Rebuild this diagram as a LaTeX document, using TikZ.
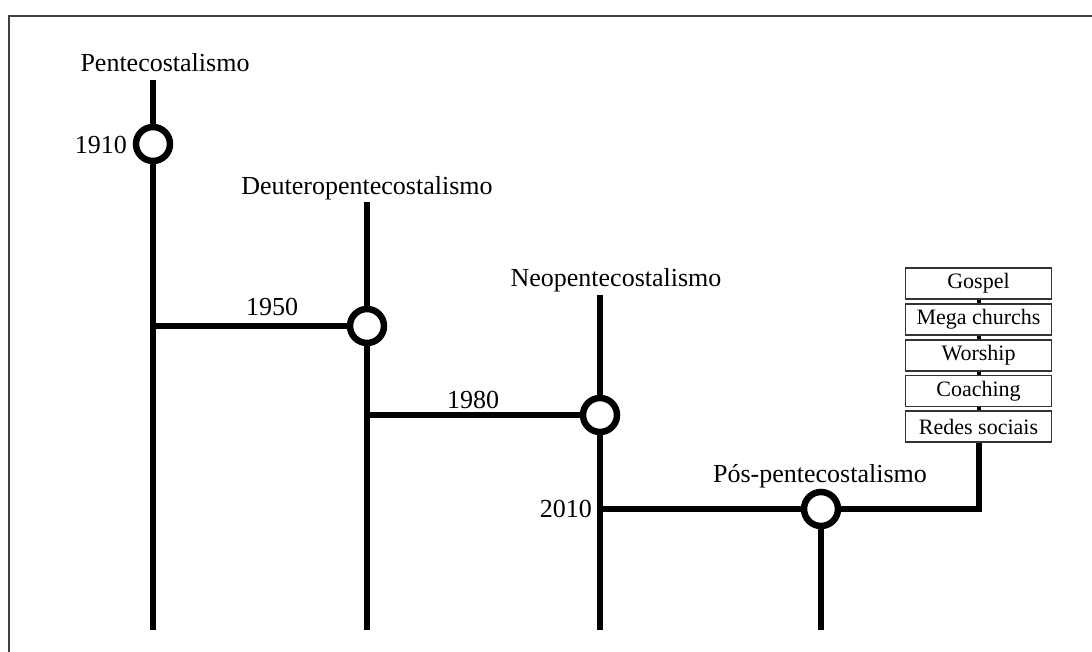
\documentclass[tikz,border=0pt]{standalone}
\usepackage{fontspec}
\setmainfont{Liberation Serif}
\begin{document}
\begin{tikzpicture}[x=1pt,y=-1pt,
  track/.style={line width=6pt,black},
  era/.style={circle,draw=black,line width=6.5pt,fill=white,minimum size=34pt,inner sep=0pt},
  title/.style={font=\fontsize{26}{30}\selectfont,anchor=base,inner sep=0pt},
  year/.style={font=\fontsize{26}{30}\selectfont,inner sep=0pt},
  tag/.style={draw=black!80,line width=1.6pt,fill=white,minimum width=146pt,minimum height=31pt,
    inner sep=0pt,font=\fontsize{22}{24}\selectfont},
  link/.style={line width=4pt,black}]
  \useasboundingbox (0,0) rectangle (1092,652);
  % frame edges
  \draw[line width=2pt,black!75] (9,652) -- (9,16) -- (1092,16);

  % era markers
  \node[era] (c1) at (153,144) {};
  \node[era] (c2) at (367,326) {};
  \node[era] (c3) at (600,415) {};
  \node[era] (c4) at (821,509) {};

  % line ends and junctions
  \coordinate (t1) at (153,80);
  \coordinate (t2) at (367,202);
  \coordinate (t3) at (600,295);
  \coordinate (b1) at (153,630);
  \coordinate (b2) at (367,630);
  \coordinate (b3) at (600,630);
  \coordinate (b4) at (821,630);
  \coordinate (j1) at (153,326);
  \coordinate (j2) at (367,415);
  \coordinate (j3) at (600,509);
  \coordinate (k4) at (978.5,509);

  % titles
  \node[title] (n1) at (165,72) {Pentecostalismo};
  \node[title] (n2) at (367,195) {Deuteropentecostalismo};
  \node[title] (n3) at (616,287) {Neopentecostalismo};
  \node[title] (n4) at (820,482) {Pós-pentecostalismo};

  % years
  \node[year,anchor=base east] (y1) at (127,154) {1910};
  \node[year,anchor=base] (y2) at (272,316) {1950};
  \node[year,anchor=base] (y3) at (473,408) {1980};
  \node[year,anchor=base east] (y4) at (592,517) {2010};

  % tags
  \node[tag] (g1) at (978.5,283.5) {Gospel};
  \node[tag] (g2) at (978.5,319.5) {Mega churchs};
  \node[tag] (g3) at (978.5,355.5) {Worship};
  \node[tag] (g4) at (978.5,391) {Coaching};
  \node[tag] (g5) at (978.5,426.5) {Redes sociais};

  % tracks
  \draw[track] (t1) -- (c1);
  \draw[track] (c1) -- (b1);
  \draw[track] (t2) -- (c2);
  \draw[track] (c2) -- (b2);
  \draw[track] (t3) -- (c3);
  \draw[track] (c3) -- (b3);
  \draw[track] (c4) -- (b4);
  \draw[track] (j1) -- (c2);
  \draw[track] (j2) -- (c3);
  \draw[track] (j3) -- (c4);
  \draw[track] (c4) -- (k4) -- (g5.south);

  % tag chain
  \draw[link] (g1) -- (g2);
  \draw[link] (g2) -- (g3);
  \draw[link] (g3) -- (g4);
  \draw[link] (g4) -- (g5);
\end{tikzpicture}
\end{document}
